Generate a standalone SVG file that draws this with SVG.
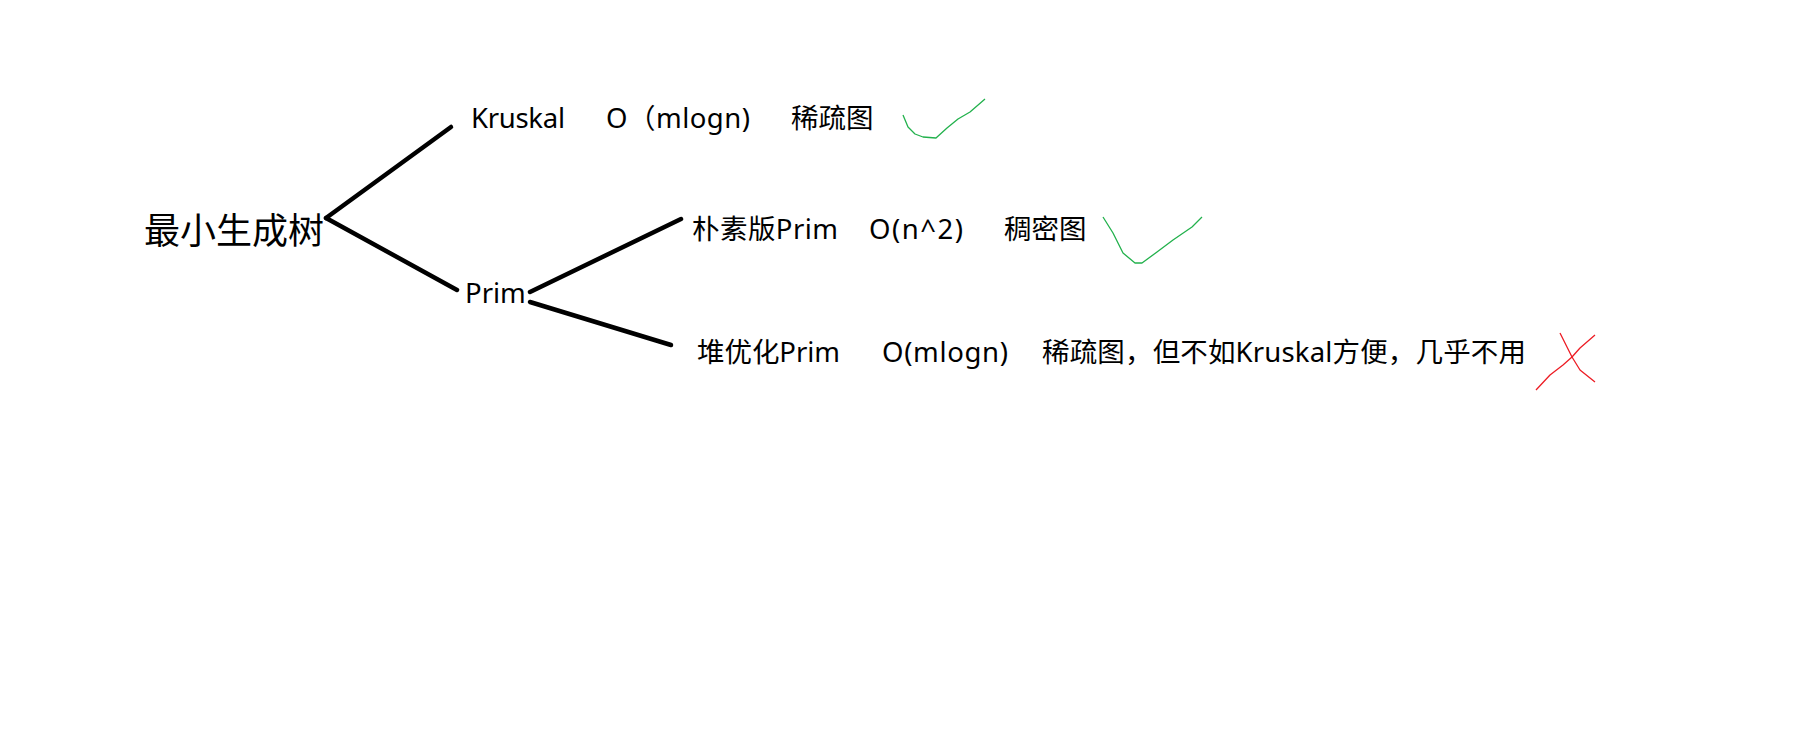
<svg xmlns="http://www.w3.org/2000/svg" width="1811" height="749" viewBox="0 0 1811 749">
<style>
text{font-family:"Noto Sans","Noto Sans CJK SC",sans-serif;font-size:27.5px;fill:#000}
.title{font-size:36px}
.edge{stroke:#000;stroke-width:4.5;stroke-linecap:round;fill:none}
.ok{stroke:#22b14c;stroke-width:1.3;fill:none;stroke-linejoin:round}
.no{stroke:#ed1c24;stroke-width:1.3;fill:none;stroke-linejoin:round}
</style>
<rect width="1811" height="749" fill="#fff"/>
<g id="connectors">
<line class="edge" x1="326" y1="218" x2="451" y2="127"/>
<line class="edge" x1="326" y1="218" x2="457" y2="290"/>
<line class="edge" x1="530" y1="292" x2="681" y2="219"/>
<line class="edge" x1="530" y1="302" x2="671" y2="345"/>
</g>
<g id="root"><text class="title" x="144" y="244">最小生成树</text></g>
<g id="kruskal">
<text x="471" y="128" textLength="94">Kruskal</text>
<text x="606" y="128" textLength="144">O（mlogn)</text>
<text x="791" y="128">稀疏图</text>
<path class="ok" d="M903,115 L908,127 L915,134 L923,137 L936,138 L947,128 L958,119 L970,112 L985,99"/>
</g>
<g id="prim"><text x="465" y="303">Prim</text></g>
<g id="naive-prim">
<text x="692" y="239" textLength="146">朴素版Prim</text>
<text x="869" y="239" textLength="94">O(n^2)</text>
<text x="1004" y="239">稠密图</text>
<path class="ok" d="M1103,217 L1113,233 L1123,253 L1135,263 L1142,263 L1157,252 L1173,240 L1192,227 L1202,217"/>
</g>
<g id="heap-prim">
<text x="697" y="362" textLength="143">堆优化Prim</text>
<text x="882" y="362" textLength="126">O(mlogn)</text>
<text x="1042" y="362" textLength="484">稀疏图，但不如Kruskal方便，几乎不用</text>
<path class="no" d="M1536,390 L1550,375 L1563,365 L1572,357 L1580,348 L1595,335"/>
<path class="no" d="M1560,333 L1567,347 L1572,357 L1580,370 L1595,382"/>
</g>
</svg>
